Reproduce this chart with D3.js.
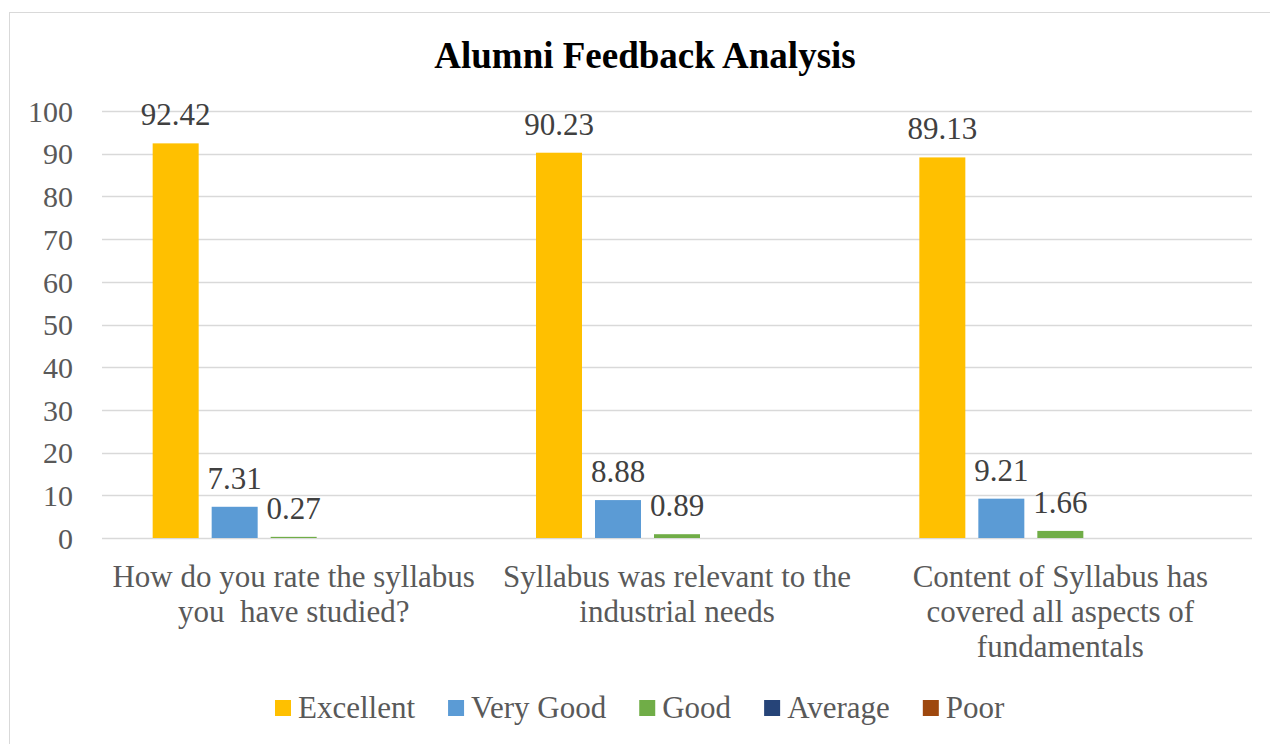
<!DOCTYPE html>
<html>
<head>
<meta charset="utf-8">
<script src="https://cdn.jsdelivr.net/npm/d3@7/dist/d3.min.js"></script>
</head>
<body style="margin:0">
<svg id="chart" width="1270" height="744" font-family="Liberation Serif"></svg>
<script>
const title = "Alumni Feedback Analysis";
const categories = [
  "How do you rate the syllabus\nyou  have studied?",
  "Syllabus was relevant to the\nindustrial needs",
  "Content of Syllabus has\ncovered all aspects of\nfundamentals"
];
const seriesNames = ["Excellent", "Very Good", "Good", "Average", "Poor"];
const seriesColors = ["#FFC000", "#5B9BD5", "#70AD47", "#264478", "#9E480E"];
const excellent = [92.42, 90.23, 89.13];
const veryGood = [7.31, 8.88, 9.21];
const good = [0.27, 0.89, 1.66];
const average = [null, null, null];
const poor = [null, null, null];
const yTicks = [0, 10, 20, 30, 40, 50, 60, 70, 80, 90, 100];

const seriesValues = [excellent, veryGood, good, average, poor];
const FONT = "Liberation Serif";

const svg = d3.select("#chart");
const W = 1270, H = 744;
const plot = { left: 102, right: 1252, top: 111, bottom: 538 };

svg.append("rect")
  .attr("x", 9.5).attr("y", 12.5)
  .attr("width", W + 20).attr("height", H + 20)
  .attr("fill", "#fff").attr("stroke", "#d9d9d9").attr("stroke-width", 1);

svg.append("text")
  .attr("x", 645).attr("y", 68)
  .attr("text-anchor", "middle")
  .attr("font-family", FONT)
  .attr("font-size", 37).attr("font-weight", "bold")
  .attr("fill", "#000")
  .text(title);

const x0 = d3.scaleBand().domain(d3.range(categories.length))
  .range([plot.left, plot.right]).paddingInner(0).paddingOuter(0);
const y = d3.scaleLinear().domain([0, 100]).range([plot.bottom, plot.top]);

const groupW = 282;
const x1 = d3.scaleBand().domain(d3.range(seriesNames.length))
  .range([0, groupW]).paddingInner(13 / 59).paddingOuter(0);

svg.append("g").selectAll("line").data(yTicks).join("line")
  .attr("x1", plot.left).attr("x2", plot.right)
  .attr("y1", d => Math.round(y(d)) + 0.5).attr("y2", d => Math.round(y(d)) + 0.5)
  .attr("stroke", "#d9d9d9").attr("stroke-width", 1.5);

const yAxis = d3.axisLeft(y).tickValues(yTicks).tickSize(0).tickPadding(0);
const yg = svg.append("g").attr("transform", `translate(73,0)`).call(yAxis);
yg.select(".domain").remove();
yg.attr("font-family", FONT).attr("font-size", 30);
yg.selectAll("text").attr("fill", "#595959").attr("font-family", FONT).attr("dy", "0.34em");

const groups = svg.append("g").selectAll("g").data(categories).join("g")
  .attr("transform", (d, i) => `translate(${x0(i) + (x0.bandwidth() - groupW) / 2},0)`);

groups.each(function (c, ci) {
  const g = d3.select(this);
  seriesValues.forEach((vals, si) => {
    const v = vals[ci];
    if (v == null) return;
    g.append("rect")
      .attr("x", x1(si)).attr("width", x1.bandwidth())
      .attr("y", y(v)).attr("height", y(0) - y(v))
      .attr("fill", seriesColors[si]);
    g.append("text")
      .attr("x", x1(si) + x1.bandwidth() / 2)
      .attr("y", y(v) - 18)
      .attr("text-anchor", "middle")
      .attr("font-family", FONT)
      .attr("font-size", 31).attr("fill", "#404040")
      .text(v.toFixed(2));
  });
});

categories.forEach((c, i) => {
  const lines = c.split("\n");
  const t = svg.append("text")
    .attr("text-anchor", "middle")
    .attr("font-family", FONT)
    .attr("font-size", 31).attr("fill", "#595959")
    .attr("xml:space", "preserve");
  lines.forEach((ln, li) => {
    t.append("tspan")
      .attr("x", x0(i) + x0.bandwidth() / 2)
      .attr("y", 587 + li * 35)
      .text(ln);
  });
});

let lx = 275;
const legend = svg.append("g");
seriesNames.forEach((name, i) => {
  legend.append("rect").attr("x", lx).attr("y", 700).attr("width", 16).attr("height", 16)
    .attr("fill", seriesColors[i]);
  const t = legend.append("text").attr("x", lx + 23).attr("y", 718)
    .attr("font-family", FONT)
    .attr("font-size", 31).attr("fill", "#595959").text(name);
  const w = t.node().getComputedTextLength();
  lx = lx + 23 + w + 33;
});
</script>
</body>
</html>
